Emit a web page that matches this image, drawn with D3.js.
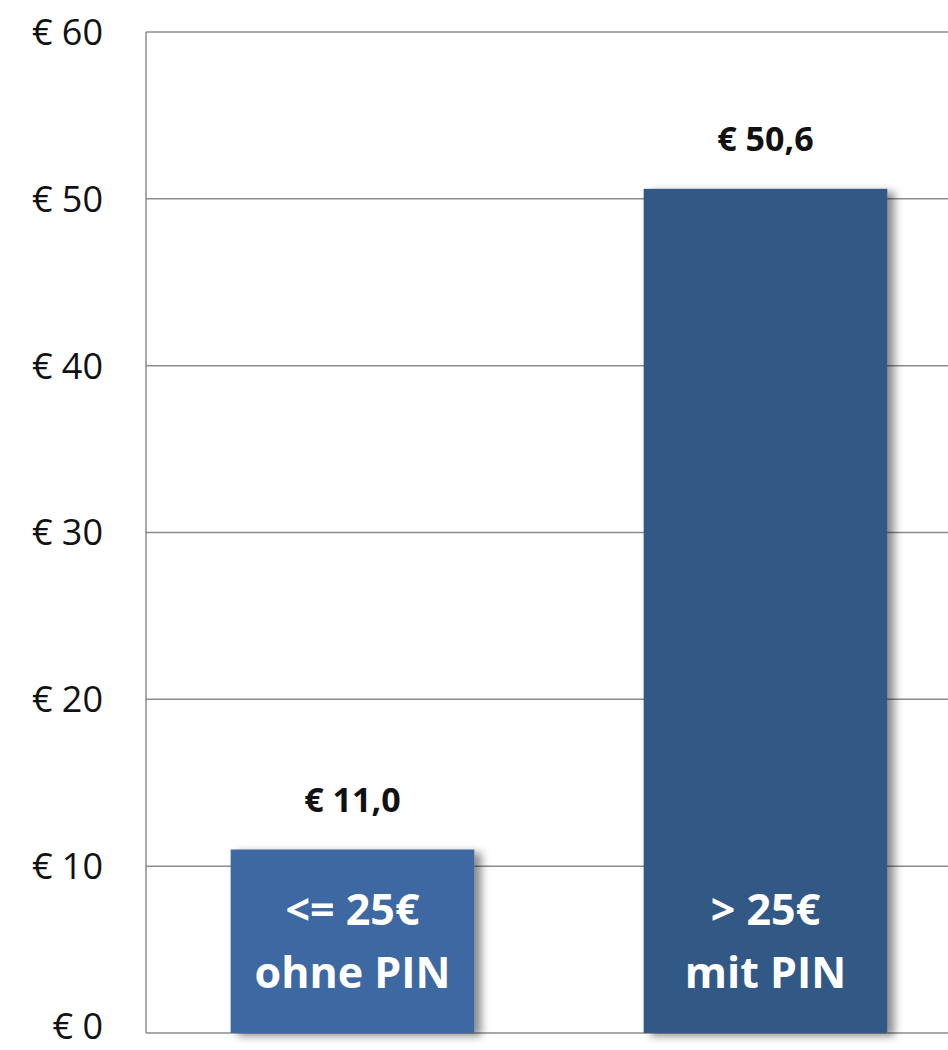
<!DOCTYPE html>
<html><head><meta charset="utf-8">
<script src="https://cdn.jsdelivr.net/npm/d3@7"></script>
<style>html,body{margin:0;padding:0;background:#fff;overflow:hidden}</style>
</head><body>
<svg id="c" width="948" height="1050"></svg>
<script>
const categories = ["<= 25€|ohne PIN", "> 25€|mit PIN"];
const values = [11.0, 50.6];
const valueLabels = ["€ 11,0", "€ 50,6"];
const barColors = ["#3D68A1", "#335885"];
const yTicks = [0, 10, 20, 30, 40, 50, 60];
const yTickLabels = ["€ 0", "€ 10", "€ 20", "€ 30", "€ 40", "€ 50", "€ 60"];

const W = 948, H = 1050;
const svg = d3.select("#c");
const m = {left: 146, top: 32, bottom: 1033, right: 972};
const x = d3.scaleBand().domain(categories).range([m.left, m.right]).paddingInner(0.41).paddingOuter(0.205);
const y = d3.scaleLinear().domain([0, 60]).range([m.bottom, m.top]);

const defs = svg.append("defs");
const f = defs.append("filter").attr("id", "sh").attr("x", "-10%").attr("y", "-10%").attr("width", "130%").attr("height", "130%");
f.append("feDropShadow").attr("dx", 7).attr("dy", 3).attr("stdDeviation", 4).attr("flood-color", "#000").attr("flood-opacity", 0.45);

// grid
svg.append("g").selectAll("line").data(yTicks).join("line")
  .attr("x1", m.left).attr("x2", m.right)
  .attr("y1", d => y(d)).attr("y2", d => y(d))
  .attr("stroke", "#8c8c8c").attr("stroke-width", 1.5);
svg.append("line").attr("x1", m.left).attr("x2", m.left).attr("y1", m.top).attr("y2", m.bottom)
  .attr("stroke", "#8c8c8c").attr("stroke-width", 1.5);

// y labels (baseline kept inside the canvas)
const fs = 36;
svg.append("g").selectAll("text").data(yTicks).join("text")
  .attr("x", 103).attr("y", d => Math.min(y(d) + fs * 0.36, H - fs * 0.3))
  .attr("text-anchor", "end")
  .attr("font-family", "'Open Sans', sans-serif").attr("font-size", fs).attr("fill", "#111")
  .text((d, i) => yTickLabels[i]);

// bars
svg.append("g").selectAll("rect").data(categories).join("rect")
  .attr("x", d => x(d)).attr("width", x.bandwidth())
  .attr("y", (d, i) => y(values[i])).attr("height", (d, i) => y(0) - y(values[i]))
  .attr("fill", (d, i) => barColors[i]).attr("filter", "url(#sh)");

// value labels
svg.append("g").selectAll("text").data(categories).join("text")
  .attr("x", d => x(d) + x.bandwidth() / 2).attr("y", (d, i) => y(values[i]) - 50)
  .attr("dy", "0.36em").attr("text-anchor", "middle")
  .attr("font-family", "'Open Sans', sans-serif").attr("font-weight", "bold").attr("font-size", 34).attr("fill", "#111")
  .text((d, i) => valueLabels[i]);

// inside category labels
categories.forEach((c, i) => {
  const lines = c.split("|");
  lines.forEach((ln, j) => {
    svg.append("text")
      .attr("x", x(c) + x.bandwidth() / 2).attr("y", y(0) - 123 + j * 63)
      .attr("dy", "0.36em").attr("text-anchor", "middle")
      .attr("font-family", "'Open Sans', sans-serif").attr("font-weight", "bold").attr("font-size", 43).attr("fill", "#fff")
      .text(ln);
  });
});
</script>
</body></html>
